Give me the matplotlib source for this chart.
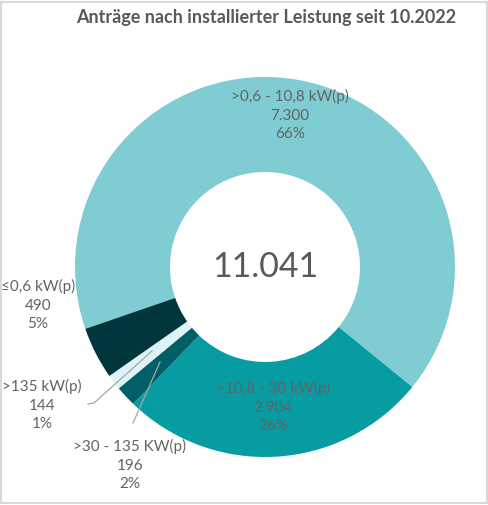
import matplotlib.pyplot as plt

plt.rcParams['font.family'] = ['Lato', 'DejaVu Sans']

categories = ['>0,6 - 10,8 kW(p)', '>10,8 - 30 kW(p)', '>30 - 135 KW(p)', '>135 kW(p)', '\u22640,6 kW(p)']
counts = [7300, 2904, 196, 144, 490]
count_labels = ['7.300', '2.904', '196', '144', '490']
percents = ['66%', '26%', '2%', '1%', '5%']
total_label = '11.041'
title = 'Anträge nach installierter Leistung seit 10.2022'

colors = ['#7fcdd2', '#079ca2', '#005f67', '#def3f5', '#00363c']
text_col = '#636363'

W, H = 489, 505
fig = plt.figure(figsize=(W / 100, H / 100), dpi=100)
ax = fig.add_axes([0, 0, 1, 1])
ax.axis('off')

cx, cy = 265, H - 267
ax.pie(counts, colors=colors, startangle=199, counterclock=False,
       center=(cx, cy), radius=190,
       wedgeprops=dict(width=95, edgecolor='none', linewidth=0))
ax.set_xlim(0, W)
ax.set_ylim(0, H)
ax.set_aspect('equal')

# labels (pixel positions from top)
lab_pos = [(290, 115), (273, 407), (130, 465), (42, 405), (38, 305)]
for i in range(len(counts)):
	x, y = lab_pos[i]
	txt = categories[i] + '\n' + count_labels[i] + '\n' + percents[i]
	ax.text(x, H - y, txt, ha='center', va='center', fontsize=11,
	        color=text_col, linespacing=1.4)

# leader lines
ax.plot([88, 94, 152], [H - 404, H - 403, H - 351], color='#a6a6a6', lw=0.9)
ax.plot([133, 160], [H - 423, H - 362], color='#a6a6a6', lw=0.9)

ax.text(cx, cy, total_label, ha='center', va='center', fontsize=24.5, color='#595959')
fig.text(266 / W, 1 - 17 / H, title, ha='center', va='center', fontsize=13,
         fontweight='bold', color='#595959')

# thin grey frame
fig.patches.append(plt.Rectangle((0.002, 0.004), 0.994, 0.993, transform=fig.transFigure,
                                 fill=False, edgecolor='#d9d9d9', lw=1.5))

fig.savefig('out.png', dpi=100)
